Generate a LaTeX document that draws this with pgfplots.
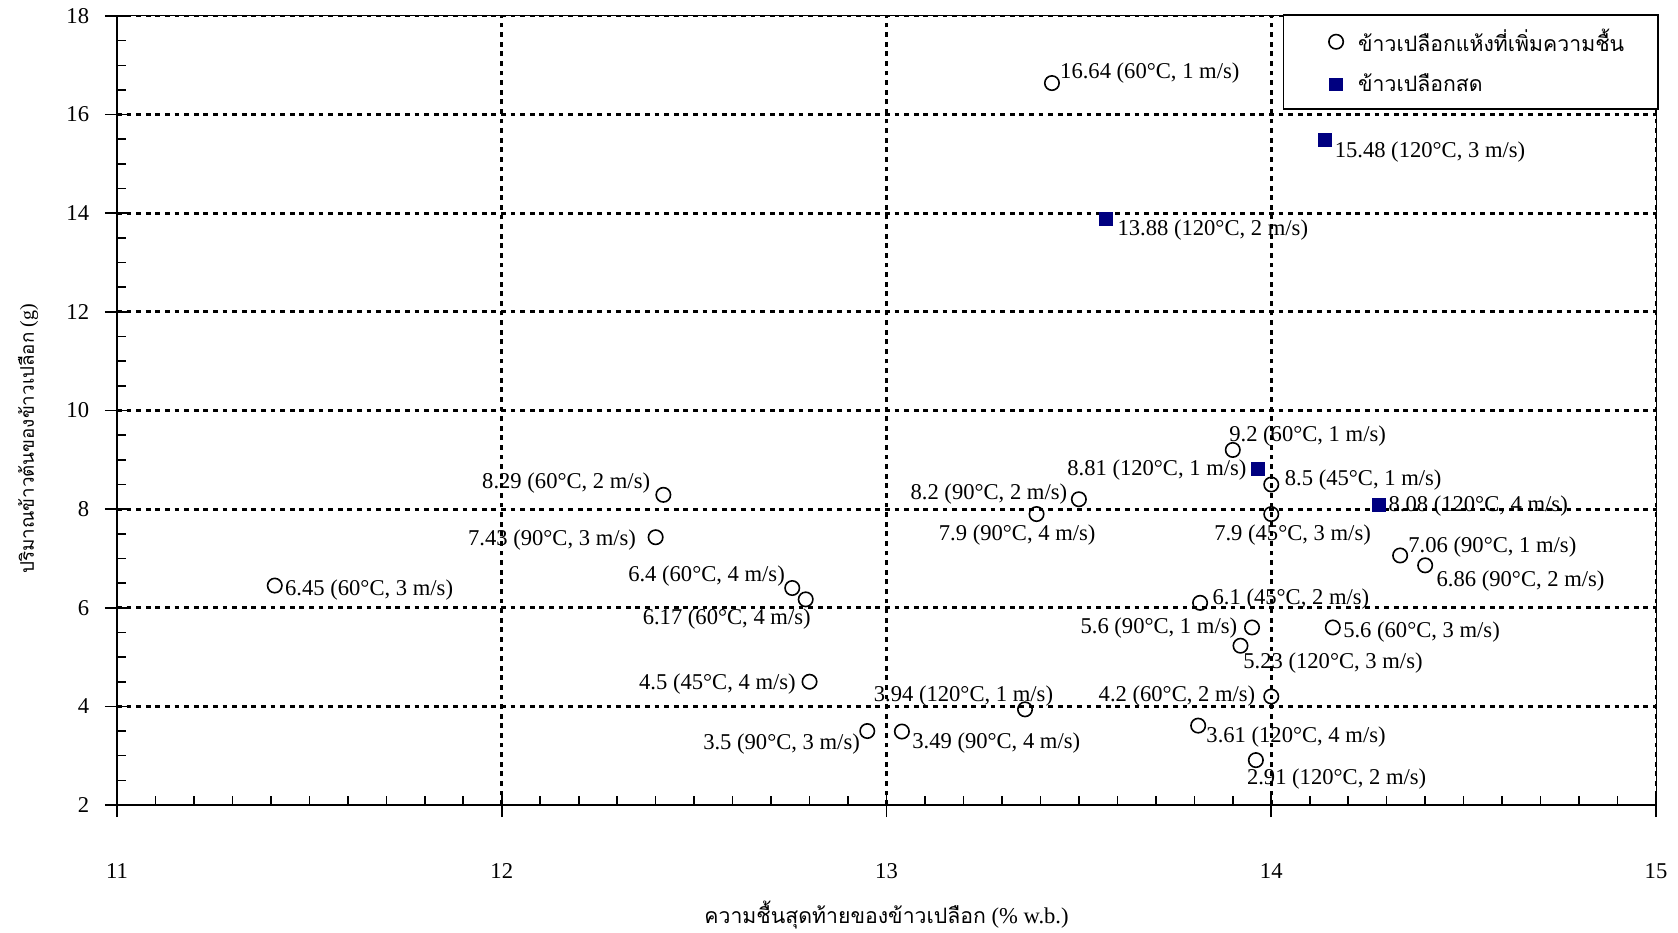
\documentclass[border=0pt]{standalone}
\usepackage{fontspec}
\setmainfont{Liberation Serif}
\newfontfamily\thaifont[Script=Thai,Scale=0.94]{Loma}
\usepackage{pgfplots}
\usepackage{pgfplotstable}
\pgfplotsset{compat=1.18}
\definecolor{navyblue}{RGB}{0,0,128}

\pgfplotstableread[col sep=semicolon]{
x;y;dx;dy;label
11.41;6.45;9;-2;6.45 (60°C, 3 m/s)
12.42;8.29;-170;13;8.29 (60°C, 2 m/s)
12.40;7.43;-176;0;7.43 (90°C, 3 m/s)
12.755;6.40;-154;14;6.4 (60°C, 4 m/s)
12.79;6.17;-153;-16;6.17 (60°C, 4 m/s)
12.80;4.50;-160;0;4.5 (45°C, 4 m/s)
12.95;3.50;-154;-10;3.5 (90°C, 3 m/s)
13.04;3.49;9;-8;3.49 (90°C, 4 m/s)
13.36;3.94;-142;15;3.94 (120°C, 1 m/s)
13.39;7.90;-92;-17;7.9 (90°C, 4 m/s)
13.50;8.20;-158;7;8.2 (90°C, 2 m/s)
13.43;16.64;7;12;16.64 (60°C, 1 m/s)
13.90;9.20;-4;15;9.2 (60°C, 1 m/s)
14.00;8.50;12;7;8.5 (45°C, 1 m/s)
14.00;7.90;-54;-17;7.9 (45°C, 3 m/s)
13.815;6.10;11;6;6.1 (45°C, 2 m/s)
13.95;5.60;-161;2;5.6 (90°C, 1 m/s)
13.92;5.23;2;-14;5.23 (120°C, 3 m/s)
14.16;5.60;9;-2;5.6 (60°C, 3 m/s)
14.335;7.06;7;10;7.06 (90°C, 1 m/s)
14.40;6.86;10;-12;6.86 (90°C, 2 m/s)
14.00;4.20;-162;3;4.2 (60°C, 2 m/s)
13.81;3.61;7;-8;3.61 (120°C, 4 m/s)
13.96;2.91;-9;-15;2.91 (120°C, 2 m/s)
}\circdata

\pgfplotstableread[col sep=semicolon]{
x;y;dx;dy;label
14.14;15.48;9;-9;15.48 (120°C, 3 m/s)
13.57;13.88;11;-8;13.88 (120°C, 2 m/s)
13.965;8.81;-178;2;8.81 (120°C, 1 m/s)
14.28;8.08;9;2;8.08 (120°C, 4 m/s)
}\squaredata

\pgfplotsset{
  labelled/.style={
    nodes near coords,
    point meta=explicit symbolic,
    visualization depends on={\thisrow{dx} \as \dx},
    visualization depends on={\thisrow{dy} \as \dy},
    nodes near coords style={anchor=west, inner sep=0pt, xshift={\dx*0.535pt}, yshift={\dy*0.535pt-1.3pt}, black},
  },
  widelegimg/.style={legend image code/.code={\path[draw=none] (0pt,0pt) -- (20.2pt,0pt); \draw[##1] plot coordinates {(11.2pt,0pt)};}},
}

\begin{document}
\fontsize{11.3}{13.5}\selectfont
\begin{tikzpicture}
\begin{axis}[
  name=ax,
  scale only axis,
  width=769.5pt, height=394.5pt,
  xmin=11, xmax=15, ymin=2, ymax=18,
  xtick={11,12,13,14,15}, ytick={2,4,...,18},
  minor x tick num=9, minor y tick num=3,
  tick pos=left,
  tick align=inside,
  major tick length=6pt, minor tick length=4.5pt,
  tick style={black, line width=0.8pt},
  extra x ticks={11,12,13,14,15},
  extra y ticks={2,4,...,18},
  extra tick style={grid=none, tick align=outside, major tick length=6pt, xticklabel={}, yticklabel={}},
  grid=major,
  major grid style={black, line width=1.4pt, dash pattern=on 2.4pt off 2.4pt},
  axis line style={black, line width=0.5pt},
  /pgf/number format/assume math mode=true,
  xticklabel style={anchor=center, yshift=-33pt},
  yticklabel style={anchor=east, xshift=-10pt},
  xlabel={{\thaifont ความชื้นสุดท้ายของข้าวเปลือก} (\% w.b.)},
  ylabel={{\thaifont ปริมาณข้าวต้นของข้าวเปลือก} (g)},
  every axis x label/.style={at={(axis description cs:0.5,0)}, anchor=center, yshift=-55pt},
  every axis y label/.style={at={(axis description cs:-0.0578,0.464)}, rotate=90, anchor=center, font=\fontsize{10}{12}\selectfont},
  legend style={at={(rel axis cs:1,1)}, anchor=north east, xshift=1.5pt, yshift=1pt,
    draw=black, line width=0.8pt, fill=white, inner xsep=15pt, inner ysep=5pt,
    row sep=5.6pt, font=\fontsize{11.3}{13.5}\selectfont},
  legend cell align=left,
  clip=false,
]
\addplot[only marks, mark=o, mark size=3.6pt, mark options={black, line width=0.8pt}, labelled, forget plot]
  table[x=x, y=y, meta=label] {\circdata};
\addplot[only marks, mark=square*, mark size=3.2pt, mark options={navyblue, fill=navyblue, line width=0pt}, labelled, forget plot]
  table[x=x, y=y, meta=label] {\squaredata};
\addlegendimage{only marks, mark=o, mark size=3.6pt, mark options={black, line width=0.8pt}, widelegimg}
\addlegendentry{\thaifont ข้าวเปลือกแห้งที่เพิ่มความชื้น}
\addlegendimage{only marks, mark=square*, mark size=3.2pt, mark options={navyblue, fill=navyblue, line width=0pt}, widelegimg}
\addlegendentry{\thaifont ข้าวเปลือกสด\rule[-2.8pt]{0pt}{2.8pt}}
\draw[black, line width=1.1pt] (rel axis cs:0,1) -- (rel axis cs:0,0) -- (rel axis cs:1,0);
\end{axis}
\path (ax.south west) ++(-58.5pt,-63.5pt) coordinate (bl);
\path (ax.north east) ++(11pt,8pt) coordinate (tr);
\pgfresetboundingbox
\useasboundingbox (bl) rectangle (tr);
\end{tikzpicture}
\end{document}
